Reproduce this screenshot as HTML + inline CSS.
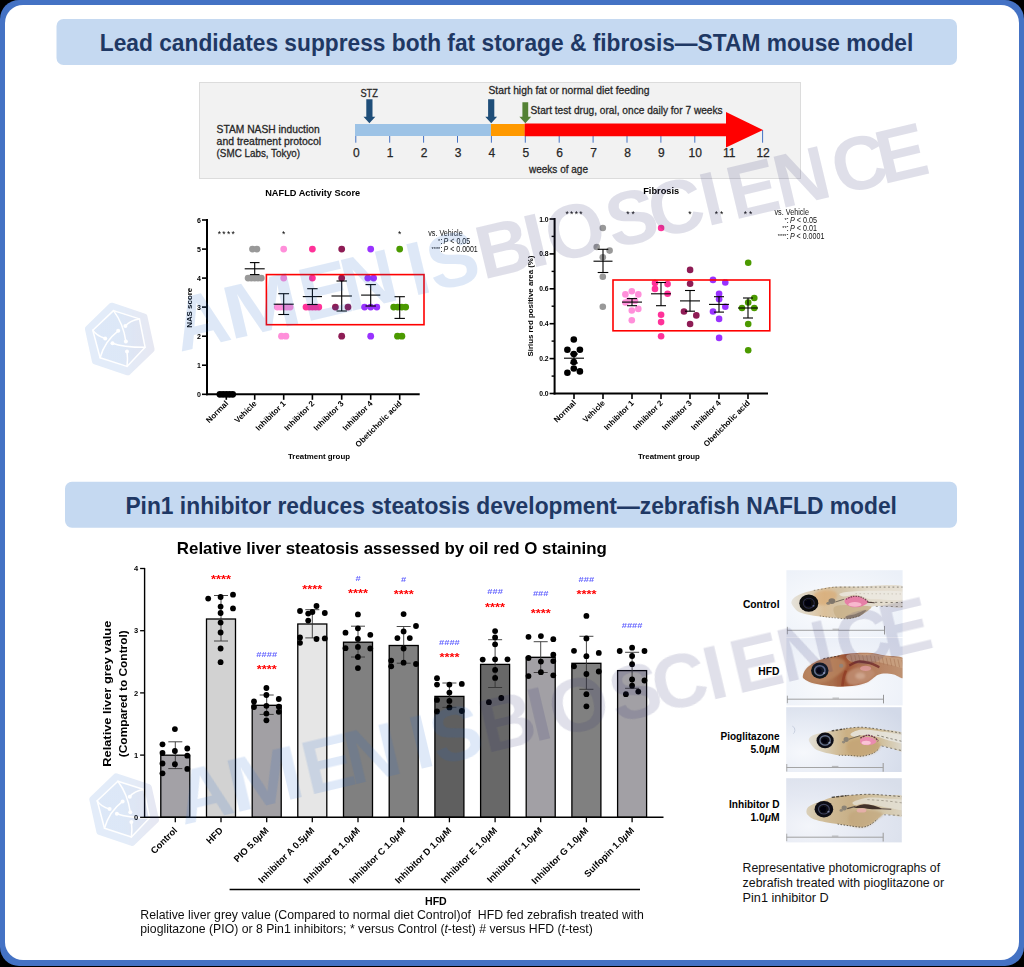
<!DOCTYPE html>
<html><head><meta charset="utf-8"><title>Slide</title>
<style>
html,body{margin:0;padding:0;background:#000;}
body{width:1024px;height:967px;overflow:hidden;}
svg{display:block;font-family:"Liberation Sans",sans-serif;}
</style></head><body>
<svg width="1024" height="967" viewBox="0 0 1024 967">
<defs><filter id="soft1" x="0" y="0" width="100%" height="100%" filterUnits="userSpaceOnUse"><feGaussianBlur stdDeviation="0.5"/></filter><filter id="soft2" x="0" y="0" width="100%" height="100%" filterUnits="userSpaceOnUse"><feGaussianBlur stdDeviation="0.35"/></filter></defs>
<rect x="0" y="0" width="1024" height="967" fill="#000" />
<rect x="0" y="0" width="1024" height="966" fill="#4472C4" rx="19" />
<rect x="5" y="5" width="1014" height="955" fill="#fff" rx="18" />
<rect x="56.5" y="19" width="900.5" height="46" fill="#C5D9F1" rx="7" />
<text x="99.8" y="51" font-size="24" font-weight="bold" fill="#1F3864" textLength="813.5" lengthAdjust="spacingAndGlyphs">Lead candidates suppress both fat storage &amp; fibrosis—STAM mouse model</text>
<rect x="199.5" y="82.5" width="601" height="96" fill="#F2F2F2" stroke="#DCDCDC" stroke-width="1" />
<line x1="355.8" y1="130" x2="355.8" y2="142.7" stroke="#4472C4" stroke-width="1" />
<text x="356.3" y="157" font-size="12" text-anchor="middle" fill="#262626" stroke="#262626" stroke-width="0.25">0</text>
<line x1="389.7" y1="130" x2="389.7" y2="142.7" stroke="#4472C4" stroke-width="1" />
<text x="390.2" y="157" font-size="12" text-anchor="middle" fill="#262626" stroke="#262626" stroke-width="0.25">1</text>
<line x1="423.6" y1="130" x2="423.6" y2="142.7" stroke="#4472C4" stroke-width="1" />
<text x="424.1" y="157" font-size="12" text-anchor="middle" fill="#262626" stroke="#262626" stroke-width="0.25">2</text>
<line x1="457.5" y1="130" x2="457.5" y2="142.7" stroke="#4472C4" stroke-width="1" />
<text x="458.0" y="157" font-size="12" text-anchor="middle" fill="#262626" stroke="#262626" stroke-width="0.25">3</text>
<line x1="491.4" y1="130" x2="491.4" y2="142.7" stroke="#4472C4" stroke-width="1" />
<text x="491.9" y="157" font-size="12" text-anchor="middle" fill="#262626" stroke="#262626" stroke-width="0.25">4</text>
<line x1="525.3" y1="130" x2="525.3" y2="142.7" stroke="#4472C4" stroke-width="1" />
<text x="525.8" y="157" font-size="12" text-anchor="middle" fill="#262626" stroke="#262626" stroke-width="0.25">5</text>
<line x1="559.2" y1="130" x2="559.2" y2="142.7" stroke="#4472C4" stroke-width="1" />
<text x="559.7" y="157" font-size="12" text-anchor="middle" fill="#262626" stroke="#262626" stroke-width="0.25">6</text>
<line x1="593.1" y1="130" x2="593.1" y2="142.7" stroke="#4472C4" stroke-width="1" />
<text x="593.6" y="157" font-size="12" text-anchor="middle" fill="#262626" stroke="#262626" stroke-width="0.25">7</text>
<line x1="627.0" y1="130" x2="627.0" y2="142.7" stroke="#4472C4" stroke-width="1" />
<text x="627.5" y="157" font-size="12" text-anchor="middle" fill="#262626" stroke="#262626" stroke-width="0.25">8</text>
<line x1="660.9" y1="130" x2="660.9" y2="142.7" stroke="#4472C4" stroke-width="1" />
<text x="661.4" y="157" font-size="12" text-anchor="middle" fill="#262626" stroke="#262626" stroke-width="0.25">9</text>
<line x1="694.8" y1="130" x2="694.8" y2="142.7" stroke="#4472C4" stroke-width="1" />
<text x="695.3" y="157" font-size="12" text-anchor="middle" fill="#262626" stroke="#262626" stroke-width="0.25">10</text>
<line x1="728.7" y1="130" x2="728.7" y2="142.7" stroke="#4472C4" stroke-width="1" />
<text x="729.2" y="157" font-size="12" text-anchor="middle" fill="#262626" stroke="#262626" stroke-width="0.25">11</text>
<line x1="762.6" y1="130" x2="762.6" y2="142.7" stroke="#4472C4" stroke-width="1" />
<text x="763.1" y="157" font-size="12" text-anchor="middle" fill="#262626" stroke="#262626" stroke-width="0.25">12</text>
<rect x="355" y="124" width="136" height="12" fill="#9DC3E6" />
<rect x="491" y="124" width="33.8" height="12" fill="#FF9900" />
<path d="M524.7 123.6 H726 V112 L763 130 L726 147.5 V136.2 H524.7 Z" fill="#FF0000"/>
<path d="M366.29999999999995 99.3 H372.5 V116.8 H375.29999999999995 L369.4 123.2 L363.5 116.8 H366.29999999999995 Z" fill="#1F4E79"/>
<path d="M488.09999999999997 99.3 H494.3 V116.8 H497.09999999999997 L491.2 123.2 L485.3 116.8 H488.09999999999997 Z" fill="#1F4E79"/>
<path d="M522.4 102.2 H528.1999999999999 V116.8 H531.1999999999999 L525.3 123.2 L519.4 116.8 H522.4 Z" fill="#548235"/>
<text x="369.2" y="96.8" font-size="11.5" text-anchor="middle" fill="#262626" textLength="17.5" lengthAdjust="spacingAndGlyphs" stroke="#262626" stroke-width="0.3">STZ</text>
<text x="488.5" y="94.2" font-size="11.5" fill="#262626" textLength="161" lengthAdjust="spacingAndGlyphs" stroke="#262626" stroke-width="0.3">Start high fat or normal diet feeding</text>
<text x="530.6" y="113.8" font-size="11.5" fill="#262626" textLength="192" lengthAdjust="spacingAndGlyphs" stroke="#262626" stroke-width="0.3">Start test drug, oral, once daily for 7 weeks</text>
<text x="529" y="173.2" font-size="11.5" fill="#262626" textLength="59" lengthAdjust="spacingAndGlyphs" stroke="#262626" stroke-width="0.3">weeks of age</text>
<text x="216.6" y="132.5" font-size="11" fill="#262626" textLength="103" lengthAdjust="spacingAndGlyphs" stroke="#262626" stroke-width="0.3">STAM NASH induction</text>
<text x="216.6" y="144.6" font-size="11" fill="#262626" textLength="104.5" lengthAdjust="spacingAndGlyphs" stroke="#262626" stroke-width="0.3">and treatment protocol</text>
<text x="216.6" y="156.7" font-size="11" fill="#262626" textLength="83.5" lengthAdjust="spacingAndGlyphs" stroke="#262626" stroke-width="0.3">(SMC Labs, Tokyo)</text>
<rect x="65" y="481.7" width="892" height="46" fill="#C5D9F1" rx="7" />
<text x="125.4" y="514" font-size="24" font-weight="bold" fill="#1F3864" textLength="771.5" lengthAdjust="spacingAndGlyphs">Pin1 inhibitor reduces steatosis development—zebrafish NAFLD model</text>
<g filter="url(#soft1)">
<text x="312.7" y="195.8" font-size="8.5" font-weight="bold" text-anchor="middle" textLength="95" lengthAdjust="spacingAndGlyphs">NAFLD Activity Score</text>
<line x1="207" y1="219.0" x2="207" y2="395.3" stroke="#000" stroke-width="2" />
<line x1="206" y1="394.3" x2="419.7" y2="394.3" stroke="#000" stroke-width="2" />
<line x1="202" y1="394.3" x2="207" y2="394.3" stroke="#000" stroke-width="1.6" />
<text x="201" y="396.90000000000003" font-size="7" font-weight="bold" text-anchor="end">0</text>
<line x1="202" y1="365.2" x2="207" y2="365.2" stroke="#000" stroke-width="1.6" />
<text x="201" y="367.8" font-size="7" font-weight="bold" text-anchor="end">1</text>
<line x1="202" y1="336.2" x2="207" y2="336.2" stroke="#000" stroke-width="1.6" />
<text x="201" y="338.8" font-size="7" font-weight="bold" text-anchor="end">2</text>
<line x1="202" y1="307.1" x2="207" y2="307.1" stroke="#000" stroke-width="1.6" />
<text x="201" y="309.70000000000005" font-size="7" font-weight="bold" text-anchor="end">3</text>
<line x1="202" y1="278.1" x2="207" y2="278.1" stroke="#000" stroke-width="1.6" />
<text x="201" y="280.70000000000005" font-size="7" font-weight="bold" text-anchor="end">4</text>
<line x1="202" y1="249.1" x2="207" y2="249.1" stroke="#000" stroke-width="1.6" />
<text x="201" y="251.7" font-size="7" font-weight="bold" text-anchor="end">5</text>
<line x1="202" y1="220.0" x2="207" y2="220.0" stroke="#000" stroke-width="1.6" />
<text x="201" y="222.6" font-size="7" font-weight="bold" text-anchor="end">6</text>
<line x1="226.3" y1="394.3" x2="226.3" y2="399.8" stroke="#000" stroke-width="1.6" />
<line x1="254.7" y1="394.3" x2="254.7" y2="399.8" stroke="#000" stroke-width="1.6" />
<line x1="283.7" y1="394.3" x2="283.7" y2="399.8" stroke="#000" stroke-width="1.6" />
<line x1="312.4" y1="394.3" x2="312.4" y2="399.8" stroke="#000" stroke-width="1.6" />
<line x1="341.7" y1="394.3" x2="341.7" y2="399.8" stroke="#000" stroke-width="1.6" />
<line x1="370.7" y1="394.3" x2="370.7" y2="399.8" stroke="#000" stroke-width="1.6" />
<line x1="399.7" y1="394.3" x2="399.7" y2="399.8" stroke="#000" stroke-width="1.6" />
<text x="228.8" y="404" font-size="8" font-weight="bold" text-anchor="end" transform="rotate(-45 228.8 404)">Normal</text>
<text x="257.2" y="404" font-size="8" font-weight="bold" text-anchor="end" transform="rotate(-45 257.2 404)">Vehicle</text>
<text x="286.2" y="404" font-size="8" font-weight="bold" text-anchor="end" transform="rotate(-45 286.2 404)">Inhibitor 1</text>
<text x="314.9" y="404" font-size="8" font-weight="bold" text-anchor="end" transform="rotate(-45 314.9 404)">Inhibitor 2</text>
<text x="344.2" y="404" font-size="8" font-weight="bold" text-anchor="end" transform="rotate(-45 344.2 404)">Inhibitor 3</text>
<text x="373.2" y="404" font-size="8" font-weight="bold" text-anchor="end" transform="rotate(-45 373.2 404)">Inhibitor 4</text>
<text x="402.2" y="404" font-size="8" font-weight="bold" text-anchor="end" transform="rotate(-45 402.2 404)">Obeticholic acid</text>
<text x="319" y="459.3" font-size="8" font-weight="bold" text-anchor="middle" textLength="62" lengthAdjust="spacingAndGlyphs">Treatment group</text>
<text x="191.8" y="307.8" font-size="7.5" font-weight="bold" text-anchor="middle" textLength="40" lengthAdjust="spacingAndGlyphs" transform="rotate(-90 191.8 307.8)">NAS score</text>
<circle cx="219.9" cy="394.3" r="3.4" fill="#000" />
<circle cx="223.1" cy="394.3" r="3.4" fill="#000" />
<circle cx="226.3" cy="394.3" r="3.4" fill="#000" />
<circle cx="229.5" cy="394.3" r="3.4" fill="#000" />
<circle cx="232.7" cy="394.3" r="3.4" fill="#000" />
<circle cx="252.5" cy="249.1" r="3.4" fill="#999999" />
<circle cx="256.9" cy="249.1" r="3.4" fill="#999999" />
<circle cx="248.1" cy="278.1" r="3.4" fill="#999999" />
<circle cx="251.4" cy="278.1" r="3.4" fill="#999999" />
<circle cx="254.7" cy="278.1" r="3.4" fill="#999999" />
<circle cx="258.0" cy="278.1" r="3.4" fill="#999999" />
<circle cx="261.3" cy="278.1" r="3.4" fill="#999999" />
<circle cx="283.7" cy="249.1" r="3.4" fill="#FF8FDA" />
<circle cx="283.7" cy="278.1" r="3.4" fill="#FF8FDA" />
<circle cx="277.3" cy="307.1" r="3.4" fill="#FF8FDA" />
<circle cx="280.5" cy="307.1" r="3.4" fill="#FF8FDA" />
<circle cx="283.7" cy="307.1" r="3.4" fill="#FF8FDA" />
<circle cx="286.9" cy="307.1" r="3.4" fill="#FF8FDA" />
<circle cx="290.1" cy="307.1" r="3.4" fill="#FF8FDA" />
<circle cx="281.5" cy="336.2" r="3.4" fill="#FF8FDA" />
<circle cx="285.9" cy="336.2" r="3.4" fill="#FF8FDA" />
<circle cx="312.4" cy="249.1" r="3.4" fill="#FF3399" />
<circle cx="312.4" cy="278.1" r="3.4" fill="#FF3399" />
<circle cx="306.0" cy="307.1" r="3.4" fill="#FF3399" />
<circle cx="309.2" cy="307.1" r="3.4" fill="#FF3399" />
<circle cx="312.4" cy="307.1" r="3.4" fill="#FF3399" />
<circle cx="315.6" cy="307.1" r="3.4" fill="#FF3399" />
<circle cx="318.8" cy="307.1" r="3.4" fill="#FF3399" />
<circle cx="341.7" cy="249.1" r="3.4" fill="#8E1B54" />
<circle cx="341.7" cy="278.1" r="3.4" fill="#8E1B54" />
<circle cx="335.4" cy="307.1" r="3.4" fill="#8E1B54" />
<circle cx="348.0" cy="307.1" r="3.4" fill="#8E1B54" />
<circle cx="341.7" cy="336.2" r="3.4" fill="#8E1B54" />
<circle cx="370.7" cy="249.1" r="3.4" fill="#9933FF" />
<circle cx="367.8" cy="278.1" r="3.4" fill="#9933FF" />
<circle cx="373.6" cy="278.1" r="3.4" fill="#9933FF" />
<circle cx="364.6" cy="307.1" r="3.4" fill="#9933FF" />
<circle cx="370.7" cy="307.1" r="3.4" fill="#9933FF" />
<circle cx="376.8" cy="307.1" r="3.4" fill="#9933FF" />
<circle cx="370.7" cy="336.2" r="3.4" fill="#9933FF" />
<circle cx="399.7" cy="249.1" r="3.4" fill="#4C9A00" />
<circle cx="393.7" cy="307.1" r="3.4" fill="#4C9A00" />
<circle cx="397.7" cy="307.1" r="3.4" fill="#4C9A00" />
<circle cx="401.7" cy="307.1" r="3.4" fill="#4C9A00" />
<circle cx="405.7" cy="307.1" r="3.4" fill="#4C9A00" />
<circle cx="397.5" cy="336.2" r="3.4" fill="#4C9A00" />
<circle cx="401.9" cy="336.2" r="3.4" fill="#4C9A00" />
<line x1="244.7" y1="268.8" x2="264.7" y2="268.8" stroke="#000" stroke-width="1.1" />
<line x1="254.7" y1="262.6" x2="254.7" y2="274.6" stroke="#000" stroke-width="1.1" />
<line x1="249.89999999999998" y1="262.6" x2="259.5" y2="262.6" stroke="#000" stroke-width="1.1" />
<line x1="249.89999999999998" y1="274.6" x2="259.5" y2="274.6" stroke="#000" stroke-width="1.1" />
<line x1="273.7" y1="304.2" x2="293.7" y2="304.2" stroke="#000" stroke-width="1.1" />
<line x1="283.7" y1="293.7" x2="283.7" y2="314.5" stroke="#000" stroke-width="1.1" />
<line x1="278.3" y1="293.7" x2="289.09999999999997" y2="293.7" stroke="#000" stroke-width="1.1" />
<line x1="278.3" y1="314.5" x2="289.09999999999997" y2="314.5" stroke="#000" stroke-width="1.1" />
<line x1="302.79999999999995" y1="296.6" x2="322.0" y2="296.6" stroke="#000" stroke-width="1.1" />
<line x1="312.4" y1="288.7" x2="312.4" y2="304.5" stroke="#000" stroke-width="1.1" />
<line x1="307.2" y1="288.7" x2="317.59999999999997" y2="288.7" stroke="#000" stroke-width="1.1" />
<line x1="307.2" y1="304.5" x2="317.59999999999997" y2="304.5" stroke="#000" stroke-width="1.1" />
<line x1="331.5" y1="296.0" x2="351.9" y2="296.0" stroke="#000" stroke-width="1.1" />
<line x1="341.7" y1="281.0" x2="341.7" y2="311.0" stroke="#000" stroke-width="1.1" />
<line x1="336.5" y1="281.0" x2="346.9" y2="281.0" stroke="#000" stroke-width="1.1" />
<line x1="336.5" y1="311.0" x2="346.9" y2="311.0" stroke="#000" stroke-width="1.1" />
<line x1="361.09999999999997" y1="295.1" x2="380.3" y2="295.1" stroke="#000" stroke-width="1.1" />
<line x1="370.7" y1="284.6" x2="370.7" y2="306.0" stroke="#000" stroke-width="1.1" />
<line x1="365.5" y1="284.6" x2="375.9" y2="284.6" stroke="#000" stroke-width="1.1" />
<line x1="365.5" y1="306.0" x2="375.9" y2="306.0" stroke="#000" stroke-width="1.1" />
<line x1="399.7" y1="307.5" x2="399.7" y2="307.5" stroke="#000" stroke-width="1.1" />
<line x1="399.7" y1="296.7" x2="399.7" y2="318.4" stroke="#000" stroke-width="1.1" />
<line x1="394.5" y1="296.7" x2="404.9" y2="296.7" stroke="#000" stroke-width="1.1" />
<line x1="394.5" y1="318.4" x2="404.9" y2="318.4" stroke="#000" stroke-width="1.1" />
<rect x="266.4" y="274.6" width="157.6" height="50.1" fill="none" stroke="#FF0000" stroke-width="1.6" />
<text x="226.3" y="237.2" font-size="8.5" text-anchor="middle" textLength="17.2" lengthAdjust="spacing">****</text>
<text x="283.7" y="237.2" font-size="8.5" text-anchor="middle">*</text>
<text x="399.7" y="237.2" font-size="8.5" text-anchor="middle">*</text>
<text x="428.2" y="235.6" font-size="8.4" fill="#111" textLength="34.5" lengthAdjust="spacingAndGlyphs">vs. Vehicle</text>
<text x="442.6" y="243.9" font-size="8.4" fill="#111" text-anchor="end"><tspan font-size="5.6" dy="-1.2">*</tspan><tspan dy="1.2">:</tspan></text>
<text x="443.6" y="243.9" font-size="8.4" fill="#111" textLength="26.6" lengthAdjust="spacingAndGlyphs"><tspan font-style="italic">P</tspan> &lt; 0.05</text>
<text x="442.6" y="252.2" font-size="8.4" fill="#111" text-anchor="end"><tspan font-size="5.6" dy="-1.2">****</tspan><tspan dy="1.2">:</tspan></text>
<text x="443.6" y="252.2" font-size="8.4" fill="#111" textLength="34.2" lengthAdjust="spacingAndGlyphs"><tspan font-style="italic">P</tspan> &lt; 0.0001</text>
<text x="661.2" y="193.7" font-size="8.5" font-weight="bold" text-anchor="middle" textLength="36" lengthAdjust="spacingAndGlyphs">Fibrosis</text>
<line x1="554.6" y1="218.0" x2="554.6" y2="394.5" stroke="#000" stroke-width="2" />
<line x1="553.6" y1="393.5" x2="768" y2="393.5" stroke="#000" stroke-width="2" />
<line x1="549.6" y1="393.5" x2="554.6" y2="393.5" stroke="#000" stroke-width="1.6" />
<text x="548.6" y="396.0" font-size="6.8" font-weight="bold" text-anchor="end">0.0</text>
<line x1="551.6" y1="376.1" x2="554.6" y2="376.1" stroke="#000" stroke-width="1.4" />
<line x1="549.6" y1="358.6" x2="554.6" y2="358.6" stroke="#000" stroke-width="1.6" />
<text x="548.6" y="361.1" font-size="6.8" font-weight="bold" text-anchor="end">0.2</text>
<line x1="551.6" y1="341.1" x2="554.6" y2="341.1" stroke="#000" stroke-width="1.4" />
<line x1="549.6" y1="323.7" x2="554.6" y2="323.7" stroke="#000" stroke-width="1.6" />
<text x="548.6" y="326.2" font-size="6.8" font-weight="bold" text-anchor="end">0.4</text>
<line x1="551.6" y1="306.2" x2="554.6" y2="306.2" stroke="#000" stroke-width="1.4" />
<line x1="549.6" y1="288.8" x2="554.6" y2="288.8" stroke="#000" stroke-width="1.6" />
<text x="548.6" y="291.3" font-size="6.8" font-weight="bold" text-anchor="end">0.6</text>
<line x1="551.6" y1="271.4" x2="554.6" y2="271.4" stroke="#000" stroke-width="1.4" />
<line x1="549.6" y1="253.9" x2="554.6" y2="253.9" stroke="#000" stroke-width="1.6" />
<text x="548.6" y="256.4" font-size="6.8" font-weight="bold" text-anchor="end">0.8</text>
<line x1="551.6" y1="236.4" x2="554.6" y2="236.4" stroke="#000" stroke-width="1.4" />
<line x1="549.6" y1="219.0" x2="554.6" y2="219.0" stroke="#000" stroke-width="1.6" />
<text x="548.6" y="221.5" font-size="6.8" font-weight="bold" text-anchor="end">1.0</text>
<line x1="574" y1="393.5" x2="574" y2="399.0" stroke="#000" stroke-width="1.6" />
<line x1="603" y1="393.5" x2="603" y2="399.0" stroke="#000" stroke-width="1.6" />
<line x1="632" y1="393.5" x2="632" y2="399.0" stroke="#000" stroke-width="1.6" />
<line x1="661" y1="393.5" x2="661" y2="399.0" stroke="#000" stroke-width="1.6" />
<line x1="690" y1="393.5" x2="690" y2="399.0" stroke="#000" stroke-width="1.6" />
<line x1="719" y1="393.5" x2="719" y2="399.0" stroke="#000" stroke-width="1.6" />
<line x1="748" y1="393.5" x2="748" y2="399.0" stroke="#000" stroke-width="1.6" />
<text x="576.5" y="403.5" font-size="8" font-weight="bold" text-anchor="end" transform="rotate(-45 576.5 403.5)">Normal</text>
<text x="605.5" y="403.5" font-size="8" font-weight="bold" text-anchor="end" transform="rotate(-45 605.5 403.5)">Vehicle</text>
<text x="634.5" y="403.5" font-size="8" font-weight="bold" text-anchor="end" transform="rotate(-45 634.5 403.5)">Inhibitor 1</text>
<text x="663.5" y="403.5" font-size="8" font-weight="bold" text-anchor="end" transform="rotate(-45 663.5 403.5)">Inhibitor 2</text>
<text x="692.5" y="403.5" font-size="8" font-weight="bold" text-anchor="end" transform="rotate(-45 692.5 403.5)">Inhibitor 3</text>
<text x="721.5" y="403.5" font-size="8" font-weight="bold" text-anchor="end" transform="rotate(-45 721.5 403.5)">Inhibitor 4</text>
<text x="750.5" y="403.5" font-size="8" font-weight="bold" text-anchor="end" transform="rotate(-45 750.5 403.5)">Obeticholic acid</text>
<text x="668.9" y="459.3" font-size="8" font-weight="bold" text-anchor="middle" textLength="62" lengthAdjust="spacingAndGlyphs">Treatment group</text>
<text x="532.5" y="306" font-size="7.5" font-weight="bold" text-anchor="middle" textLength="101" lengthAdjust="spacingAndGlyphs" transform="rotate(-90 532.5 306)">Sirius red positive area (%)</text>
<circle cx="573.8" cy="339.5" r="3.3" fill="#000" />
<circle cx="567.4" cy="349.8" r="3.3" fill="#000" />
<circle cx="579.9" cy="349.8" r="3.3" fill="#000" />
<circle cx="573.8" cy="354" r="3.3" fill="#000" />
<circle cx="573.8" cy="362" r="3.3" fill="#000" />
<circle cx="573.8" cy="368.5" r="3.3" fill="#000" />
<circle cx="567.4" cy="372.7" r="3.3" fill="#000" />
<circle cx="579.9" cy="371.4" r="3.3" fill="#000" />
<circle cx="602.8" cy="228" r="3.3" fill="#999999" />
<circle cx="596.7" cy="247" r="3.3" fill="#999999" />
<circle cx="609.6" cy="250.6" r="3.3" fill="#999999" />
<circle cx="602.8" cy="257.3" r="3.3" fill="#999999" />
<circle cx="602.8" cy="276.7" r="3.3" fill="#999999" />
<circle cx="602.8" cy="306.7" r="3.3" fill="#999999" />
<circle cx="631.8" cy="291.2" r="3.3" fill="#FF8FDA" />
<circle cx="625.4" cy="294.4" r="3.3" fill="#FF8FDA" />
<circle cx="638.3" cy="294.4" r="3.3" fill="#FF8FDA" />
<circle cx="628.6" cy="300.9" r="3.3" fill="#FF8FDA" />
<circle cx="635" cy="300.9" r="3.3" fill="#FF8FDA" />
<circle cx="625.4" cy="302.5" r="3.3" fill="#FF8FDA" />
<circle cx="638.3" cy="308.9" r="3.3" fill="#FF8FDA" />
<circle cx="631.8" cy="310.5" r="3.3" fill="#FF8FDA" />
<circle cx="631.8" cy="320.2" r="3.3" fill="#FF8FDA" />
<circle cx="661.1" cy="228" r="3.3" fill="#FF3399" />
<circle cx="655" cy="283.1" r="3.3" fill="#FF3399" />
<circle cx="667.6" cy="284.1" r="3.3" fill="#FF3399" />
<circle cx="655" cy="288.9" r="3.3" fill="#FF3399" />
<circle cx="667.6" cy="293.8" r="3.3" fill="#FF3399" />
<circle cx="661.1" cy="314.7" r="3.3" fill="#FF3399" />
<circle cx="661.1" cy="322.1" r="3.3" fill="#FF3399" />
<circle cx="661.1" cy="336.3" r="3.3" fill="#FF3399" />
<circle cx="690.1" cy="269.9" r="3.3" fill="#8E1B54" />
<circle cx="690.1" cy="283.8" r="3.3" fill="#8E1B54" />
<circle cx="684" cy="311.5" r="3.3" fill="#8E1B54" />
<circle cx="696.3" cy="315.4" r="3.3" fill="#8E1B54" />
<circle cx="690.1" cy="324" r="3.3" fill="#8E1B54" />
<circle cx="713" cy="279.9" r="3.3" fill="#9933FF" />
<circle cx="725.3" cy="282.5" r="3.3" fill="#9933FF" />
<circle cx="719.1" cy="293.8" r="3.3" fill="#9933FF" />
<circle cx="719.1" cy="299.2" r="3.3" fill="#9933FF" />
<circle cx="725.3" cy="306.7" r="3.3" fill="#9933FF" />
<circle cx="713" cy="311.5" r="3.3" fill="#9933FF" />
<circle cx="719.1" cy="318.9" r="3.3" fill="#9933FF" />
<circle cx="719.1" cy="337.9" r="3.3" fill="#9933FF" />
<circle cx="748.2" cy="262.8" r="3.3" fill="#4C9A00" />
<circle cx="754.3" cy="298" r="3.3" fill="#4C9A00" />
<circle cx="748.2" cy="302.5" r="3.3" fill="#4C9A00" />
<circle cx="742" cy="308" r="3.3" fill="#4C9A00" />
<circle cx="754.3" cy="308" r="3.3" fill="#4C9A00" />
<circle cx="748.2" cy="324" r="3.3" fill="#4C9A00" />
<circle cx="748.2" cy="350.2" r="3.3" fill="#4C9A00" />
<line x1="564" y1="358.2" x2="584" y2="358.2" stroke="#000" stroke-width="1.1" />
<line x1="574" y1="354" x2="574" y2="363" stroke="#000" stroke-width="1.1" />
<line x1="570" y1="354" x2="578" y2="354" stroke="#000" stroke-width="1.1" />
<line x1="570" y1="363" x2="578" y2="363" stroke="#000" stroke-width="1.1" />
<line x1="593.5" y1="261.2" x2="612.5" y2="261.2" stroke="#000" stroke-width="1.1" />
<line x1="603" y1="249.3" x2="603" y2="272.5" stroke="#000" stroke-width="1.1" />
<line x1="597.7" y1="249.3" x2="608.3" y2="249.3" stroke="#000" stroke-width="1.1" />
<line x1="597.7" y1="272.5" x2="608.3" y2="272.5" stroke="#000" stroke-width="1.1" />
<line x1="622" y1="302.1" x2="642" y2="302.1" stroke="#000" stroke-width="1.1" />
<line x1="632" y1="298.6" x2="632" y2="305.7" stroke="#000" stroke-width="1.1" />
<line x1="627" y1="298.6" x2="637" y2="298.6" stroke="#000" stroke-width="1.1" />
<line x1="627" y1="305.7" x2="637" y2="305.7" stroke="#000" stroke-width="1.1" />
<line x1="651" y1="293.8" x2="671" y2="293.8" stroke="#000" stroke-width="1.1" />
<line x1="661" y1="282.5" x2="661" y2="305.7" stroke="#000" stroke-width="1.1" />
<line x1="656" y1="282.5" x2="666" y2="282.5" stroke="#000" stroke-width="1.1" />
<line x1="656" y1="305.7" x2="666" y2="305.7" stroke="#000" stroke-width="1.1" />
<line x1="680" y1="300.9" x2="700" y2="300.9" stroke="#000" stroke-width="1.1" />
<line x1="690" y1="290.5" x2="690" y2="311.2" stroke="#000" stroke-width="1.1" />
<line x1="685" y1="290.5" x2="695" y2="290.5" stroke="#000" stroke-width="1.1" />
<line x1="685" y1="311.2" x2="695" y2="311.2" stroke="#000" stroke-width="1.1" />
<line x1="709" y1="304.4" x2="729" y2="304.4" stroke="#000" stroke-width="1.1" />
<line x1="719" y1="296.7" x2="719" y2="312.1" stroke="#000" stroke-width="1.1" />
<line x1="714" y1="296.7" x2="724" y2="296.7" stroke="#000" stroke-width="1.1" />
<line x1="714" y1="312.1" x2="724" y2="312.1" stroke="#000" stroke-width="1.1" />
<line x1="738" y1="308" x2="758" y2="308" stroke="#000" stroke-width="1.1" />
<line x1="748" y1="298" x2="748" y2="318" stroke="#000" stroke-width="1.1" />
<line x1="743" y1="298" x2="753" y2="298" stroke="#000" stroke-width="1.1" />
<line x1="743" y1="318" x2="753" y2="318" stroke="#000" stroke-width="1.1" />
<rect x="613" y="280" width="156.8" height="50.8" fill="none" stroke="#FF0000" stroke-width="1.6" />
<text x="574" y="216.8" font-size="8.5" text-anchor="middle" textLength="17.2" lengthAdjust="spacing">****</text>
<text x="630.5" y="216.8" font-size="8.5" text-anchor="middle" textLength="8.6" lengthAdjust="spacing">**</text>
<text x="690" y="216.8" font-size="8.5" text-anchor="middle">*</text>
<text x="719" y="216.8" font-size="8.5" text-anchor="middle" textLength="8.6" lengthAdjust="spacing">**</text>
<text x="748" y="216.8" font-size="8.5" text-anchor="middle" textLength="8.6" lengthAdjust="spacing">**</text>
<text x="774.5" y="214.5" font-size="8.4" fill="#111" textLength="34.5" lengthAdjust="spacingAndGlyphs">vs. Vehicle</text>
<text x="788.9" y="222.8" font-size="8.4" fill="#111" text-anchor="end"><tspan font-size="5.6" dy="-1.2">*</tspan><tspan dy="1.2">:</tspan></text>
<text x="789.9" y="222.8" font-size="8.4" fill="#111" textLength="27" lengthAdjust="spacingAndGlyphs"><tspan font-style="italic">P</tspan> &lt; 0.05</text>
<text x="788.9" y="231.1" font-size="8.4" fill="#111" text-anchor="end"><tspan font-size="5.6" dy="-1.2">**</tspan><tspan dy="1.2">:</tspan></text>
<text x="789.9" y="231.1" font-size="8.4" fill="#111" textLength="27" lengthAdjust="spacingAndGlyphs"><tspan font-style="italic">P</tspan> &lt; 0.01</text>
<text x="788.9" y="239.4" font-size="8.4" fill="#111" text-anchor="end"><tspan font-size="5.6" dy="-1.2">****</tspan><tspan dy="1.2">:</tspan></text>
<text x="789.9" y="239.4" font-size="8.4" fill="#111" textLength="34.5" lengthAdjust="spacingAndGlyphs"><tspan font-style="italic">P</tspan> &lt; 0.0001</text>
</g>
<g filter="url(#soft2)">
<text x="176.8" y="554.4" font-size="17" font-weight="bold" textLength="430" lengthAdjust="spacingAndGlyphs">Relative liver steatosis assessed by oil red O staining</text>
<rect x="160.8" y="755.2" width="29" height="62.1" fill="#A3A1A6" stroke="#000" stroke-width="1.3" />
<rect x="206.5" y="619" width="29" height="198.3" fill="#D2D2D2" stroke="#000" stroke-width="1.3" />
<rect x="252.2" y="705.3" width="29" height="112.0" fill="#A2A0A4" stroke="#000" stroke-width="1.3" />
<rect x="297.8" y="624" width="29" height="193.3" fill="#E6E6E6" stroke="#000" stroke-width="1.3" />
<rect x="343.5" y="642.2" width="29" height="175.1" fill="#808080" stroke="#000" stroke-width="1.3" />
<rect x="389.2" y="645.5" width="29" height="171.8" fill="#808080" stroke="#000" stroke-width="1.3" />
<rect x="434.9" y="696.4" width="29" height="120.9" fill="#5E5E5E" stroke="#000" stroke-width="1.3" />
<rect x="480.6" y="664.4" width="29" height="152.9" fill="#686868" stroke="#000" stroke-width="1.3" />
<rect x="526.2" y="657.3" width="29" height="160.0" fill="#A2A0A5" stroke="#000" stroke-width="1.3" />
<rect x="571.9" y="663.3" width="29" height="154.0" fill="#808080" stroke="#000" stroke-width="1.3" />
<rect x="617.6" y="670.6" width="29" height="146.7" fill="#A2A0A5" stroke="#000" stroke-width="1.3" />
<line x1="144.6" y1="567.9" x2="144.6" y2="818.0" stroke="#000" stroke-width="1.4" />
<line x1="143.9" y1="817.3" x2="663.5" y2="817.3" stroke="#000" stroke-width="1.4" />
<line x1="140.1" y1="817.3" x2="144.6" y2="817.3" stroke="#000" stroke-width="1.3" />
<text x="138.1" y="820.0" font-size="7.5" font-weight="bold" text-anchor="end">0</text>
<line x1="140.1" y1="755.1" x2="144.6" y2="755.1" stroke="#000" stroke-width="1.3" />
<text x="138.1" y="757.8000000000001" font-size="7.5" font-weight="bold" text-anchor="end">1</text>
<line x1="140.1" y1="692.9" x2="144.6" y2="692.9" stroke="#000" stroke-width="1.3" />
<text x="138.1" y="695.6" font-size="7.5" font-weight="bold" text-anchor="end">2</text>
<line x1="140.1" y1="630.7" x2="144.6" y2="630.7" stroke="#000" stroke-width="1.3" />
<text x="138.1" y="633.4000000000001" font-size="7.5" font-weight="bold" text-anchor="end">3</text>
<line x1="140.1" y1="568.5" x2="144.6" y2="568.5" stroke="#000" stroke-width="1.3" />
<text x="138.1" y="571.2" font-size="7.5" font-weight="bold" text-anchor="end">4</text>
<line x1="175.3" y1="817.3" x2="175.3" y2="822.3" stroke="#000" stroke-width="1.3" />
<line x1="221.0" y1="817.3" x2="221.0" y2="822.3" stroke="#000" stroke-width="1.3" />
<line x1="266.7" y1="817.3" x2="266.7" y2="822.3" stroke="#000" stroke-width="1.3" />
<line x1="312.3" y1="817.3" x2="312.3" y2="822.3" stroke="#000" stroke-width="1.3" />
<line x1="358.0" y1="817.3" x2="358.0" y2="822.3" stroke="#000" stroke-width="1.3" />
<line x1="403.7" y1="817.3" x2="403.7" y2="822.3" stroke="#000" stroke-width="1.3" />
<line x1="449.4" y1="817.3" x2="449.4" y2="822.3" stroke="#000" stroke-width="1.3" />
<line x1="495.1" y1="817.3" x2="495.1" y2="822.3" stroke="#000" stroke-width="1.3" />
<line x1="540.7" y1="817.3" x2="540.7" y2="822.3" stroke="#000" stroke-width="1.3" />
<line x1="586.4" y1="817.3" x2="586.4" y2="822.3" stroke="#000" stroke-width="1.3" />
<line x1="632.1" y1="817.3" x2="632.1" y2="822.3" stroke="#000" stroke-width="1.3" />
<line x1="175.3" y1="741.8" x2="175.3" y2="768.6" stroke="#333" stroke-width="0.9" />
<line x1="168.3" y1="741.8" x2="182.3" y2="741.8" stroke="#333" stroke-width="0.9" />
<line x1="168.3" y1="768.6" x2="182.3" y2="768.6" stroke="#333" stroke-width="0.9" />
<line x1="221.0" y1="595.5" x2="221.0" y2="641" stroke="#333" stroke-width="0.9" />
<line x1="214.0" y1="595.5" x2="228.0" y2="595.5" stroke="#333" stroke-width="0.9" />
<line x1="214.0" y1="641" x2="228.0" y2="641" stroke="#333" stroke-width="0.9" />
<line x1="266.7" y1="695" x2="266.7" y2="714.4" stroke="#333" stroke-width="0.9" />
<line x1="259.7" y1="695" x2="273.7" y2="695" stroke="#333" stroke-width="0.9" />
<line x1="259.7" y1="714.4" x2="273.7" y2="714.4" stroke="#333" stroke-width="0.9" />
<line x1="312.3" y1="609.7" x2="312.3" y2="637.9" stroke="#333" stroke-width="0.9" />
<line x1="305.3" y1="609.7" x2="319.3" y2="609.7" stroke="#333" stroke-width="0.9" />
<line x1="305.3" y1="637.9" x2="319.3" y2="637.9" stroke="#333" stroke-width="0.9" />
<line x1="358.0" y1="626.2" x2="358.0" y2="657" stroke="#333" stroke-width="0.9" />
<line x1="351.0" y1="626.2" x2="365.0" y2="626.2" stroke="#333" stroke-width="0.9" />
<line x1="351.0" y1="657" x2="365.0" y2="657" stroke="#333" stroke-width="0.9" />
<line x1="403.7" y1="626.5" x2="403.7" y2="663.2" stroke="#333" stroke-width="0.9" />
<line x1="396.7" y1="626.5" x2="410.7" y2="626.5" stroke="#333" stroke-width="0.9" />
<line x1="396.7" y1="663.2" x2="410.7" y2="663.2" stroke="#333" stroke-width="0.9" />
<line x1="449.4" y1="683" x2="449.4" y2="707.4" stroke="#333" stroke-width="0.9" />
<line x1="442.4" y1="683" x2="456.4" y2="683" stroke="#333" stroke-width="0.9" />
<line x1="442.4" y1="707.4" x2="456.4" y2="707.4" stroke="#333" stroke-width="0.9" />
<line x1="495.1" y1="639.7" x2="495.1" y2="687.5" stroke="#333" stroke-width="0.9" />
<line x1="488.1" y1="639.7" x2="502.1" y2="639.7" stroke="#333" stroke-width="0.9" />
<line x1="488.1" y1="687.5" x2="502.1" y2="687.5" stroke="#333" stroke-width="0.9" />
<line x1="540.7" y1="641.7" x2="540.7" y2="672.5" stroke="#333" stroke-width="0.9" />
<line x1="533.7" y1="641.7" x2="547.7" y2="641.7" stroke="#333" stroke-width="0.9" />
<line x1="533.7" y1="672.5" x2="547.7" y2="672.5" stroke="#333" stroke-width="0.9" />
<line x1="586.4" y1="636.3" x2="586.4" y2="689.3" stroke="#333" stroke-width="0.9" />
<line x1="579.4" y1="636.3" x2="593.4" y2="636.3" stroke="#333" stroke-width="0.9" />
<line x1="579.4" y1="689.3" x2="593.4" y2="689.3" stroke="#333" stroke-width="0.9" />
<line x1="632.1" y1="652.3" x2="632.1" y2="688.3" stroke="#333" stroke-width="0.9" />
<line x1="625.1" y1="652.3" x2="639.1" y2="652.3" stroke="#333" stroke-width="0.9" />
<line x1="625.1" y1="688.3" x2="639.1" y2="688.3" stroke="#333" stroke-width="0.9" />
<circle cx="174.9" cy="729.1" r="2.9" fill="#000" />
<circle cx="162.5" cy="744.3" r="2.9" fill="#000" />
<circle cx="187.3" cy="748.5" r="2.9" fill="#000" />
<circle cx="174.9" cy="751" r="2.9" fill="#000" />
<circle cx="162.5" cy="753" r="2.9" fill="#000" />
<circle cx="187.3" cy="755.7" r="2.9" fill="#000" />
<circle cx="162.5" cy="763.5" r="2.9" fill="#000" />
<circle cx="174.9" cy="764.2" r="2.9" fill="#000" />
<circle cx="187.3" cy="768.9" r="2.9" fill="#000" />
<circle cx="162.5" cy="773.3" r="2.9" fill="#000" />
<circle cx="233" cy="594.7" r="2.9" fill="#000" />
<circle cx="208.2" cy="598.6" r="2.9" fill="#000" />
<circle cx="220.6" cy="597" r="2.9" fill="#000" />
<circle cx="220.6" cy="606.6" r="2.9" fill="#000" />
<circle cx="233" cy="608.4" r="2.9" fill="#000" />
<circle cx="220.6" cy="613" r="2.9" fill="#000" />
<circle cx="220.6" cy="622.6" r="2.9" fill="#000" />
<circle cx="220.6" cy="632.5" r="2.9" fill="#000" />
<circle cx="220.6" cy="648.5" r="2.9" fill="#000" />
<circle cx="220.6" cy="662.2" r="2.9" fill="#000" />
<circle cx="266.4" cy="688" r="2.9" fill="#000" />
<circle cx="266.4" cy="695" r="2.9" fill="#000" />
<circle cx="254" cy="701.4" r="2.9" fill="#000" />
<circle cx="278.8" cy="699" r="2.9" fill="#000" />
<circle cx="254" cy="707" r="2.9" fill="#000" />
<circle cx="266.4" cy="705.8" r="2.9" fill="#000" />
<circle cx="278.8" cy="706.6" r="2.9" fill="#000" />
<circle cx="278.8" cy="711.8" r="2.9" fill="#000" />
<circle cx="266.4" cy="713.6" r="2.9" fill="#000" />
<circle cx="266.4" cy="720.3" r="2.9" fill="#000" />
<circle cx="316.5" cy="606" r="2.9" fill="#000" />
<circle cx="300" cy="611" r="2.9" fill="#000" />
<circle cx="324.8" cy="613" r="2.9" fill="#000" />
<circle cx="308.2" cy="613.6" r="2.9" fill="#000" />
<circle cx="308.2" cy="620.6" r="2.9" fill="#000" />
<circle cx="300" cy="637.4" r="2.9" fill="#000" />
<circle cx="316.5" cy="639" r="2.9" fill="#000" />
<circle cx="324.8" cy="638.4" r="2.9" fill="#000" />
<circle cx="300" cy="642.8" r="2.9" fill="#000" />
<circle cx="312.4" cy="612" r="2.9" fill="#000" />
<circle cx="357.9" cy="614.4" r="2.9" fill="#000" />
<circle cx="357.9" cy="628.3" r="2.9" fill="#000" />
<circle cx="345.5" cy="632.7" r="2.9" fill="#000" />
<circle cx="370.3" cy="634.8" r="2.9" fill="#000" />
<circle cx="357.9" cy="638.9" r="2.9" fill="#000" />
<circle cx="357.9" cy="646.9" r="2.9" fill="#000" />
<circle cx="345.5" cy="648.2" r="2.9" fill="#000" />
<circle cx="370.3" cy="648.5" r="2.9" fill="#000" />
<circle cx="357.9" cy="657" r="2.9" fill="#000" />
<circle cx="357.9" cy="668.1" r="2.9" fill="#000" />
<circle cx="403.6" cy="614.1" r="2.9" fill="#000" />
<circle cx="416" cy="626" r="2.9" fill="#000" />
<circle cx="403.6" cy="631.4" r="2.9" fill="#000" />
<circle cx="397.4" cy="638.1" r="2.9" fill="#000" />
<circle cx="409.8" cy="638.1" r="2.9" fill="#000" />
<circle cx="403.6" cy="648.5" r="2.9" fill="#000" />
<circle cx="391.2" cy="660.6" r="2.9" fill="#000" />
<circle cx="403.6" cy="662.7" r="2.9" fill="#000" />
<circle cx="416" cy="664" r="2.9" fill="#000" />
<circle cx="391.2" cy="666.3" r="2.9" fill="#000" />
<circle cx="437" cy="678.2" r="2.9" fill="#000" />
<circle cx="437" cy="684.6" r="2.9" fill="#000" />
<circle cx="449.4" cy="684.6" r="2.9" fill="#000" />
<circle cx="461.8" cy="683.9" r="2.9" fill="#000" />
<circle cx="449.4" cy="692.6" r="2.9" fill="#000" />
<circle cx="437" cy="699.9" r="2.9" fill="#000" />
<circle cx="449.4" cy="700.9" r="2.9" fill="#000" />
<circle cx="449.4" cy="707.4" r="2.9" fill="#000" />
<circle cx="437" cy="711.5" r="2.9" fill="#000" />
<circle cx="461.8" cy="711" r="2.9" fill="#000" />
<circle cx="495.1" cy="631.1" r="2.9" fill="#000" />
<circle cx="495.1" cy="637.4" r="2.9" fill="#000" />
<circle cx="495.1" cy="644.3" r="2.9" fill="#000" />
<circle cx="482.7" cy="659.6" r="2.9" fill="#000" />
<circle cx="495.1" cy="659.3" r="2.9" fill="#000" />
<circle cx="507.5" cy="659.3" r="2.9" fill="#000" />
<circle cx="495.1" cy="669.9" r="2.9" fill="#000" />
<circle cx="495.1" cy="677.9" r="2.9" fill="#000" />
<circle cx="501.3" cy="698" r="2.9" fill="#000" />
<circle cx="488.9" cy="702.2" r="2.9" fill="#000" />
<circle cx="528.5" cy="636.8" r="2.9" fill="#000" />
<circle cx="540.9" cy="636.1" r="2.9" fill="#000" />
<circle cx="553.3" cy="639.2" r="2.9" fill="#000" />
<circle cx="553.3" cy="654.7" r="2.9" fill="#000" />
<circle cx="528.5" cy="658" r="2.9" fill="#000" />
<circle cx="553.3" cy="661.1" r="2.9" fill="#000" />
<circle cx="540.9" cy="661.6" r="2.9" fill="#000" />
<circle cx="540.9" cy="672.2" r="2.9" fill="#000" />
<circle cx="528.5" cy="676.1" r="2.9" fill="#000" />
<circle cx="553.3" cy="675.3" r="2.9" fill="#000" />
<circle cx="586.4" cy="615.9" r="2.9" fill="#000" />
<circle cx="586.4" cy="638.4" r="2.9" fill="#000" />
<circle cx="574" cy="650.8" r="2.9" fill="#000" />
<circle cx="598.8" cy="652.9" r="2.9" fill="#000" />
<circle cx="586.4" cy="656.2" r="2.9" fill="#000" />
<circle cx="574" cy="666.3" r="2.9" fill="#000" />
<circle cx="598.8" cy="671.5" r="2.9" fill="#000" />
<circle cx="586.4" cy="674" r="2.9" fill="#000" />
<circle cx="586.4" cy="694.2" r="2.9" fill="#000" />
<circle cx="586.4" cy="706.3" r="2.9" fill="#000" />
<circle cx="632.1" cy="647.7" r="2.9" fill="#000" />
<circle cx="619.7" cy="651" r="2.9" fill="#000" />
<circle cx="644.5" cy="651" r="2.9" fill="#000" />
<circle cx="632.1" cy="656" r="2.9" fill="#000" />
<circle cx="632.1" cy="664.2" r="2.9" fill="#000" />
<circle cx="632.1" cy="679.5" r="2.9" fill="#000" />
<circle cx="644.5" cy="680.5" r="2.9" fill="#000" />
<circle cx="632.1" cy="685.7" r="2.9" fill="#000" />
<circle cx="638.3" cy="691.6" r="2.9" fill="#000" />
<circle cx="625.9" cy="694.2" r="2.9" fill="#000" />
<text x="221.0" y="583" font-size="10.5" font-weight="bold" text-anchor="middle" fill="#FF0000" textLength="20" lengthAdjust="spacingAndGlyphs">****</text>
<text x="266.7" y="672.6" font-size="10.5" font-weight="bold" text-anchor="middle" fill="#FF0000" textLength="20" lengthAdjust="spacingAndGlyphs">****</text>
<text x="266.7" y="657.4" font-size="7.5" font-weight="bold" text-anchor="middle" fill="#6666FF" textLength="20.8" lengthAdjust="spacingAndGlyphs">####</text>
<text x="312.3" y="592.5" font-size="10.5" font-weight="bold" text-anchor="middle" fill="#FF0000" textLength="20" lengthAdjust="spacingAndGlyphs">****</text>
<text x="358.0" y="597.4" font-size="10.5" font-weight="bold" text-anchor="middle" fill="#FF0000" textLength="20" lengthAdjust="spacingAndGlyphs">****</text>
<text x="358.0" y="581.1" font-size="7.5" font-weight="bold" text-anchor="middle" fill="#6666FF" textLength="5.2" lengthAdjust="spacingAndGlyphs">#</text>
<text x="403.7" y="598.2" font-size="10.5" font-weight="bold" text-anchor="middle" fill="#FF0000" textLength="20" lengthAdjust="spacingAndGlyphs">****</text>
<text x="403.7" y="582.2" font-size="7.5" font-weight="bold" text-anchor="middle" fill="#6666FF" textLength="5.2" lengthAdjust="spacingAndGlyphs">#</text>
<text x="449.4" y="661" font-size="10.5" font-weight="bold" text-anchor="middle" fill="#FF0000" textLength="20" lengthAdjust="spacingAndGlyphs">****</text>
<text x="449.4" y="644.7" font-size="7.5" font-weight="bold" text-anchor="middle" fill="#6666FF" textLength="20.8" lengthAdjust="spacingAndGlyphs">####</text>
<text x="495.1" y="610.6" font-size="10.5" font-weight="bold" text-anchor="middle" fill="#FF0000" textLength="20" lengthAdjust="spacingAndGlyphs">****</text>
<text x="495.1" y="594.3" font-size="7.5" font-weight="bold" text-anchor="middle" fill="#6666FF" textLength="15.6" lengthAdjust="spacingAndGlyphs">###</text>
<text x="540.7" y="616.8" font-size="10.5" font-weight="bold" text-anchor="middle" fill="#FF0000" textLength="20" lengthAdjust="spacingAndGlyphs">****</text>
<text x="540.7" y="596.1" font-size="7.5" font-weight="bold" text-anchor="middle" fill="#6666FF" textLength="15.6" lengthAdjust="spacingAndGlyphs">###</text>
<text x="586.4" y="598.2" font-size="10.5" font-weight="bold" text-anchor="middle" fill="#FF0000" textLength="20" lengthAdjust="spacingAndGlyphs">****</text>
<text x="586.4" y="581.9" font-size="7.5" font-weight="bold" text-anchor="middle" fill="#6666FF" textLength="15.6" lengthAdjust="spacingAndGlyphs">###</text>
<text x="632.1" y="627.7" font-size="7.5" font-weight="bold" text-anchor="middle" fill="#6666FF" textLength="20.8" lengthAdjust="spacingAndGlyphs">####</text>
<text x="177.9" y="831" font-size="9.3" font-weight="bold" text-anchor="end" transform="rotate(-45 177.9 831)">Control</text>
<text x="223.6" y="831" font-size="9.3" font-weight="bold" text-anchor="end" transform="rotate(-45 223.6 831)">HFD</text>
<text x="269.3" y="831" font-size="9.3" font-weight="bold" text-anchor="end" transform="rotate(-45 269.3 831)">PIO 5.0<tspan font-style="italic">μ</tspan>M</text>
<text x="314.9" y="831" font-size="9.3" font-weight="bold" text-anchor="end" transform="rotate(-45 314.9 831)">Inhibitor A 0.5<tspan font-style="italic">μ</tspan>M</text>
<text x="360.6" y="831" font-size="9.3" font-weight="bold" text-anchor="end" transform="rotate(-45 360.6 831)">Inhibitor B 1.0<tspan font-style="italic">μ</tspan>M</text>
<text x="406.3" y="831" font-size="9.3" font-weight="bold" text-anchor="end" transform="rotate(-45 406.3 831)">Inhibitor C 1.0<tspan font-style="italic">μ</tspan>M</text>
<text x="452.0" y="831" font-size="9.3" font-weight="bold" text-anchor="end" transform="rotate(-45 452.0 831)">Inhibitor D 1.0<tspan font-style="italic">μ</tspan>M</text>
<text x="497.7" y="831" font-size="9.3" font-weight="bold" text-anchor="end" transform="rotate(-45 497.7 831)">Inhibitor E 1.0<tspan font-style="italic">μ</tspan>M</text>
<text x="543.3" y="831" font-size="9.3" font-weight="bold" text-anchor="end" transform="rotate(-45 543.3 831)">Inhibitor F 1.0<tspan font-style="italic">μ</tspan>M</text>
<text x="589.0" y="831" font-size="9.3" font-weight="bold" text-anchor="end" transform="rotate(-45 589.0 831)">Inhibitor G 1.0<tspan font-style="italic">μ</tspan>M</text>
<text x="634.7" y="831" font-size="9.3" font-weight="bold" text-anchor="end" transform="rotate(-45 634.7 831)">Sulfopin 1.0<tspan font-style="italic">μ</tspan>M</text>
<line x1="229.6" y1="889.4" x2="640" y2="889.4" stroke="#000" stroke-width="1.5" />
<text x="435.9" y="904.6" font-size="10.6" font-weight="bold" text-anchor="middle">HFD</text>
<text x="111.5" y="693.7" font-size="11.5" font-weight="bold" text-anchor="middle" textLength="146" lengthAdjust="spacingAndGlyphs" transform="rotate(-90 111.5 693.7)">Relative liver grey value</text>
<text x="126.8" y="693.7" font-size="11.5" font-weight="bold" text-anchor="middle" textLength="127" lengthAdjust="spacingAndGlyphs" transform="rotate(-90 126.8 693.7)">(Compared to Control)</text>
<text x="140.3" y="919" font-size="12.2" fill="#111" textLength="503.5" lengthAdjust="spacingAndGlyphs">Relative liver grey value (Compared to normal diet Control)of&#160; HFD fed zebrafish treated with</text>
<text x="140.3" y="933.2" font-size="12.2" fill="#111" textLength="452.5" lengthAdjust="spacingAndGlyphs">pioglitazone (PIO) or 8 Pin1 inhibitors; * versus Control (<tspan font-style="italic">t</tspan>-test) # versus HFD (<tspan font-style="italic">t</tspan>-test)</text>
</g>
<defs>
<filter id="bl" x="-10%" y="-10%" width="120%" height="120%"><feGaussianBlur stdDeviation="0.55"/></filter>
<filter id="bl2" x="-30%" y="-30%" width="160%" height="160%"><feGaussianBlur stdDeviation="2"/></filter>
<filter id="bl3" x="-30%" y="-30%" width="160%" height="160%"><feGaussianBlur stdDeviation="1.2"/></filter>
<radialGradient id="bg1" cx="0.4" cy="0.55" r="0.75"><stop offset="0" stop-color="#FBFCFE"/><stop offset="1" stop-color="#EBF0F8"/></radialGradient>
<radialGradient id="bg2" cx="0.45" cy="0.7" r="0.8"><stop offset="0" stop-color="#FAFBFD"/><stop offset="1" stop-color="#E9EEF7"/></radialGradient>
<radialGradient id="bg3" cx="0.15" cy="0.7" r="1.0"><stop offset="0" stop-color="#F6F8FC"/><stop offset="0.5" stop-color="#E4E9F3"/><stop offset="1" stop-color="#D2D9E8"/></radialGradient>
<radialGradient id="bg4" cx="0.2" cy="0.75" r="1.0"><stop offset="0" stop-color="#F3F5FA"/><stop offset="0.5" stop-color="#E4E8F2"/><stop offset="1" stop-color="#D8DEEA"/></radialGradient>
<linearGradient id="fb1" gradientUnits="userSpaceOnUse" x1="791" y1="0" x2="903" y2="0"><stop offset="0" stop-color="#E6E3DC"/><stop offset="0.12" stop-color="#DFD6C4"/><stop offset="0.3" stop-color="#DBC09A"/><stop offset="0.45" stop-color="#D3C4A8"/><stop offset="0.7" stop-color="#E2DACA"/><stop offset="1" stop-color="#E6E0D4"/></linearGradient>
<linearGradient id="fb2" gradientUnits="userSpaceOnUse" x1="803" y1="0" x2="903" y2="0"><stop offset="0" stop-color="#B5805E"/><stop offset="0.3" stop-color="#A96E4C"/><stop offset="0.42" stop-color="#9E5434"/><stop offset="0.65" stop-color="#B47C5C"/><stop offset="1" stop-color="#BE9272"/></linearGradient>
<linearGradient id="fb3" gradientUnits="userSpaceOnUse" x1="809" y1="0" x2="903" y2="0"><stop offset="0" stop-color="#E4E0D6"/><stop offset="0.18" stop-color="#D8CCB2"/><stop offset="0.4" stop-color="#CBB084"/><stop offset="0.7" stop-color="#CDB88E"/><stop offset="1" stop-color="#DCD8CC"/></linearGradient>
<linearGradient id="fb4" gradientUnits="userSpaceOnUse" x1="806" y1="0" x2="903" y2="0"><stop offset="0" stop-color="#DAD0BA"/><stop offset="0.2" stop-color="#D0BC98"/><stop offset="0.45" stop-color="#C8B088"/><stop offset="0.75" stop-color="#D2C4A4"/><stop offset="1" stop-color="#DAD2C0"/></linearGradient>
<clipPath id="cp1"><rect x="786.4" y="570.2" width="116.2" height="67"/></clipPath>
<clipPath id="cp2"><rect x="786.4" y="638" width="116.2" height="67.4"/></clipPath>
<clipPath id="cp3"><rect x="786.2" y="707.2" width="115.4" height="64.8"/></clipPath>
<clipPath id="cp4"><rect x="786.2" y="778.2" width="115.6" height="64.2"/></clipPath>
</defs>
<rect x="786.4" y="570.2" width="116.2" height="67" fill="url(#bg1)" />
<g clip-path="url(#cp1)"><g filter="url(#bl)">
<path d="M791.4 602.0 C791.6 600.6 792.6 599.1 794.1 597.8 C795.7 596.5 797.4 595.3 800.7 594.0 C804.0 592.7 808.2 591.4 813.8 590.2 C819.4 589.0 826.7 587.4 834.1 586.8 C841.4 586.2 846.2 586.5 857.9 586.5 C869.6 586.4 896.6 583.3 904.4 586.6 C912.1 589.9 907.4 603.1 904.4 606.4 C901.4 609.7 891.5 606.4 886.5 606.4 C881.5 606.3 877.5 605.7 874.6 606.1 C871.7 606.6 871.6 607.5 869.2 609.1 C866.8 610.7 863.8 614.1 860.3 615.7 C856.8 617.3 853.1 618.3 848.4 618.7 C843.6 619.0 837.4 618.1 831.7 617.6 C825.9 617.1 819.2 616.5 813.8 615.7 C808.4 614.8 803.0 614.0 799.5 612.3 C796.0 610.7 794.3 607.6 792.9 605.9 C791.6 604.2 791.2 603.3 791.4 602.0 Z" fill="url(#fb1)"/>
<path d="M814.4 593.6 C816.0 592.0 821.0 590.9 824.5 590.6 C828.0 590.3 833.3 590.6 835.3 591.8 C837.2 593.0 837.4 595.8 836.4 597.8 C835.5 599.8 832.1 602.6 829.3 603.8 C826.5 604.9 822.1 605.5 819.8 604.9 C817.4 604.4 815.9 602.1 815.0 600.2 C814.1 598.3 812.8 595.2 814.4 593.6 Z" fill="#D9A66C" opacity="0.55" filter="url(#bl3)"/>
<path d="M834.1 607.3 C835.6 605.3 840.4 605.1 846.0 604.9 C851.5 604.8 863.3 605.6 867.4 606.1 C871.6 606.6 872.2 606.4 871.0 607.9 C869.8 609.5 864.1 613.7 860.3 615.4 C856.5 617.2 852.3 618.1 848.4 618.3 C844.4 618.5 838.8 618.7 836.4 616.9 C834.1 615.0 832.5 609.3 834.1 607.3 Z" fill="#C8B088" opacity="0.8"/>
<path d="M846.0 616.3 C847.2 615.5 852.1 615.0 855.5 613.9 C858.9 612.8 865.4 609.4 866.2 609.7 C867.0 610.0 863.3 614.2 860.3 615.7 C857.3 617.2 850.7 618.6 848.4 618.7 C846.0 618.8 844.8 617.1 846.0 616.3 Z" fill="#8C7C66" opacity="0.8"/>
<path d="M840.0 593.6 C842.0 592.7 844.8 591.5 855.5 591.2 C866.2 590.9 896.2 590.4 904.4 591.8 C912.5 593.2 909.3 598.4 904.4 599.6 C899.4 600.8 880.7 599.4 874.6 599.2 C868.4 599.0 870.6 599.1 867.4 598.4 C864.3 597.7 859.5 595.1 855.5 594.8 C851.5 594.5 846.2 596.8 843.6 596.6 C841.0 596.4 838.0 594.5 840.0 593.6 Z" fill="#EEEBE4" opacity="0.75"/>
<path d="M835.3 587.1 L904.4 587.1" fill="none" stroke="#3C362C" stroke-width="0.72" stroke-dasharray="1.8 2.6" opacity="0.75"/>
<path d="M813.8 590.4 L834.1 587.1" fill="none" stroke="#5C5446" stroke-width="0.72" stroke-dasharray="1.5 2.2" opacity="0.8"/>
<path d="M869.8 602.3 L904.4 602.6" fill="none" stroke="#3C362C" stroke-width="0.80" stroke-dasharray="2.2 3" opacity="0.75"/>
<path d="M875.8 606.4 L904.4 606.6" fill="none" stroke="#5C5446" stroke-width="0.72" stroke-dasharray="2 3" opacity="0.8"/>
<path d="M855.5 593.6 L904.4 594.0" fill="none" stroke="#9C9484" stroke-width="0.48" stroke-dasharray="1.5 2.5" opacity="0.8"/>
<path d="M819.8 615.9 C821.7 616.2 826.9 617.1 831.7 617.6 C836.4 618.0 843.6 619.0 848.4 618.7 C853.1 618.3 858.3 616.2 860.3 615.7" fill="none" stroke="#4C4436" stroke-width="0.72" stroke-dasharray="1.3 1.7" opacity="0.85"/>
<path d="M844.5 600.8 C844.7 599.5 846.1 597.9 848.4 597.2 C850.6 596.5 854.9 595.9 857.9 596.4 C860.9 596.9 864.6 599.1 866.2 600.2 C867.9 601.2 868.6 601.6 868.0 602.6 C867.4 603.5 864.9 605.1 862.7 605.9 C860.4 606.7 856.9 607.5 854.3 607.3 C851.7 607.2 848.8 606.0 847.2 604.9 C845.5 603.9 844.3 602.1 844.5 600.8 Z" fill="#E67FA6"/>
<ellipse cx="854.9" cy="604.4" rx="6.5" ry="2.4" fill="#F8B8CE"/>
<path d="M846.0 599.2 C847.2 598.8 850.5 596.7 853.1 596.4 C855.7 596.0 858.9 596.3 861.5 597.2 C864.1 598.1 867.4 601.2 868.6 602.0" fill="none" stroke="#5A2236" stroke-width="1.20" stroke-dasharray="1.6 0.9" opacity="0.75"/>
<path d="M867.4 602.2 L874.6 602.8" stroke="#4A3A34" stroke-width="1"/>
<ellipse cx="831.9" cy="601.1" rx="3.4" ry="2.8" fill="#80766A"/><ellipse cx="828.3" cy="603.2" rx="2" ry="1.5" fill="#8A8072"/>
<path d="M835.3 602.0 L844.2 599.2" stroke="#6A6052" stroke-width="0.9"/>
<ellipse cx="808.8" cy="603.2" rx="9.5" ry="8.6" fill="#08080E"/><ellipse cx="808.8" cy="603.2" rx="5.5" ry="5.0" fill="none" stroke="#3A3C58" stroke-width="1.12" opacity="0.7"/><ellipse cx="808.1999999999999" cy="603.2" rx="2.9" ry="2.8" fill="#04040A"/><ellipse cx="813.5" cy="605.8" rx="1.2" ry="0.9" fill="#7C8FC8" opacity="0.6"/>
</g>
<line x1="787" y1="630.3" x2="884.5" y2="630.3" stroke="#8C8C8C" stroke-width="0.8" /><line x1="884.5" y1="625.9" x2="884.5" y2="634.5" stroke="#8C8C8C" stroke-width="0.9" /><line x1="787.3" y1="626.8" x2="787.3" y2="634.3" stroke="#8C8C8C" stroke-width="0.8" /><line x1="832.5" y1="629.2" x2="839" y2="629.2" stroke="#9A9A9A" stroke-width="0.7" />
</g>
<rect x="786.4" y="638" width="116.2" height="67.4" fill="url(#bg2)" />
<g clip-path="url(#cp2)"><g filter="url(#bl)">
<path d="M802.8 676.3 C802.9 674.9 803.6 672.4 804.9 670.6 C806.1 668.7 807.7 666.9 810.2 665.2 C812.7 663.5 816.2 661.4 819.8 660.1 C823.3 658.7 827.3 658.0 831.7 657.0 C836.0 655.9 840.0 654.6 846.0 653.9 C851.9 653.2 860.9 652.4 867.4 652.7 C874.0 652.9 879.2 654.4 885.3 655.4 C891.5 656.5 901.2 655.2 904.4 658.9 C907.6 662.6 906.2 674.9 904.4 677.5 C902.6 680.1 896.8 675.0 893.7 674.4 C890.5 673.7 887.9 673.5 885.3 673.5 C882.7 673.6 880.3 673.8 878.2 674.7 C876.0 675.6 874.2 677.6 872.2 678.9 C870.2 680.2 869.0 681.6 866.2 682.7 C863.5 683.8 859.7 684.9 855.5 685.6 C851.3 686.3 846.2 686.8 841.2 686.8 C836.2 686.8 830.7 686.1 825.7 685.5 C820.8 684.8 815.0 683.8 811.4 682.7 C807.8 681.7 805.7 680.2 804.3 679.1 C802.8 678.1 802.7 677.7 802.8 676.3 Z" fill="url(#fb2)"/>
<path d="M805.5 671.8 C806.2 668.7 810.6 665.1 815.0 662.8 C819.4 660.5 826.9 658.5 831.7 658.1 C836.4 657.6 841.2 658.3 843.6 659.8 C846.0 661.3 847.0 664.4 846.0 667.0 C845.0 669.6 841.4 672.8 837.6 675.3 C833.9 677.9 827.9 681.5 823.3 682.5 C818.8 683.5 813.2 683.1 810.2 681.3 C807.2 679.5 804.7 674.8 805.5 671.8 Z" fill="#B8845F" opacity="0.8" filter="url(#bl3)"/>
<path d="M847.2 655.1 C850.0 653.7 861.1 653.4 867.4 653.6 C873.8 653.8 879.2 655.2 885.3 656.3 C891.5 657.3 901.2 657.9 904.4 659.8 C907.6 661.8 907.0 667.4 904.4 668.2 C901.8 669.0 893.9 665.7 888.9 664.6 C883.9 663.5 879.4 662.3 874.6 661.6 C869.8 660.9 864.3 660.4 860.3 660.4 C856.3 660.4 852.9 662.5 850.7 661.6 C848.6 660.7 844.4 656.4 847.2 655.1 Z" fill="#CBA484" opacity="0.75"/>
<path d="M850.7 655.1 L852.4 662.5" stroke="#A07050" stroke-width="0.7" opacity="0.7"/>
<path d="M854.7 655.1 L856.3 662.5" stroke="#A07050" stroke-width="0.7" opacity="0.7"/>
<path d="M858.6 655.1 L860.3 662.5" stroke="#A07050" stroke-width="0.7" opacity="0.7"/>
<path d="M862.5 655.1 L864.2 662.5" stroke="#A07050" stroke-width="0.7" opacity="0.7"/>
<path d="M866.5 655.1 L868.1 662.5" stroke="#A07050" stroke-width="0.7" opacity="0.7"/>
<path d="M870.4 655.5 L872.1 662.9" stroke="#A07050" stroke-width="0.7" opacity="0.7"/>
<path d="M874.3 656.0 L876.0 663.6" stroke="#A07050" stroke-width="0.7" opacity="0.7"/>
<path d="M878.3 656.6 L879.9 664.2" stroke="#A07050" stroke-width="0.7" opacity="0.7"/>
<path d="M882.2 657.1 L883.9 664.8" stroke="#A07050" stroke-width="0.7" opacity="0.7"/>
<path d="M886.1 657.7 L887.8 665.5" stroke="#A07050" stroke-width="0.7" opacity="0.7"/>
<path d="M890.1 658.2 L891.7 666.1" stroke="#A07050" stroke-width="0.7" opacity="0.7"/>
<path d="M894.0 658.8 L895.7 666.7" stroke="#A07050" stroke-width="0.7" opacity="0.7"/>
<path d="M897.9 659.3 L899.6 667.3" stroke="#A07050" stroke-width="0.7" opacity="0.7"/>
<path d="M901.9 659.9 L903.5 668.0" stroke="#A07050" stroke-width="0.7" opacity="0.7"/>
<path d="M848.4 671.8 C850.3 670.1 854.3 668.1 857.9 667.6 C861.5 667.1 867.0 667.7 869.8 668.8 C872.6 669.9 875.0 672.1 874.6 674.1 C874.2 676.2 870.6 679.5 867.4 681.3 C864.3 683.1 858.7 684.5 855.5 684.9 C852.3 685.3 850.0 684.9 848.4 683.7 C846.8 682.5 846.0 679.7 846.0 677.7 C846.0 675.7 846.4 673.4 848.4 671.8 Z" fill="#C08E72" opacity="0.85" filter="url(#bl3)"/>
<ellipse cx="860.3" cy="675.9" rx="5" ry="3.4" fill="#D4AE98" opacity="0.7" filter="url(#bl3)"/>
<path d="M849.3 665.6 C850.7 664.9 854.5 662.0 857.9 661.6 C861.3 661.2 866.2 662.2 869.8 663.2 C873.4 664.1 877.8 666.6 879.4 667.2" fill="none" stroke="#6E2626" stroke-width="2.4" opacity="0.75"/>
<ellipse cx="865.6" cy="668.4" rx="5.5" ry="2.6" fill="#E29CA2" opacity="0.75"/>
<path d="M846.0 670.6 C845.6 671.8 844.2 675.1 843.6 677.7 C843.0 680.3 842.6 684.7 842.4 686.1" fill="none" stroke="#8A3420" stroke-width="2.6" opacity="0.6"/>
<path d="M823.3 658.6 L840.0 655.8" stroke="#3C2A20" stroke-width="0.96" stroke-dasharray="2 1.6" opacity="0.8"/>
<ellipse cx="841.2" cy="665.8" rx="2.2" ry="2" fill="#8C8480" opacity="0.8"/>
<ellipse cx="819.8" cy="670.6" rx="8.7" ry="8.1" fill="#10141F"/><ellipse cx="819.8" cy="670.6" rx="5.2" ry="4.9" fill="none" stroke="#8594B8" stroke-width="1.50" opacity="0.7"/><ellipse cx="819.1999999999999" cy="670.6" rx="2.6" ry="2.6" fill="#04040A"/><ellipse cx="824.1" cy="673.0" rx="1.2" ry="0.9" fill="#B8C4E0" opacity="0.6"/>
</g>
<line x1="787" y1="699.2" x2="883.5" y2="699.2" stroke="#8C8C8C" stroke-width="0.8" /><line x1="883.5" y1="694.8" x2="883.5" y2="703.4" stroke="#8C8C8C" stroke-width="0.9" /><line x1="787.3" y1="695.7" x2="787.3" y2="703.2" stroke="#8C8C8C" stroke-width="0.8" /><line x1="832.5" y1="698.1" x2="839" y2="698.1" stroke="#9A9A9A" stroke-width="0.7" />
</g>
<rect x="786.2" y="707.2" width="115.4" height="64.8" fill="url(#bg3)" />
<g clip-path="url(#cp3)"><g filter="url(#bl)">
<path d="M808.8 740.0 C808.7 738.8 809.4 737.7 810.5 736.8 C811.5 735.9 813.1 735.2 815.2 734.5 C817.4 733.8 820.6 733.2 823.3 732.6 C826.1 732.0 827.9 731.5 831.7 730.8 C835.5 730.1 841.0 729.0 846.0 728.4 C850.9 727.8 855.9 727.1 861.5 727.2 C867.0 727.4 872.2 728.2 879.4 729.3 C886.5 730.4 900.2 730.2 904.4 733.8 C908.6 737.4 906.6 748.7 904.4 751.1 C902.2 753.5 895.1 749.2 891.3 748.3 C887.4 747.4 883.3 745.5 881.1 745.7 C879.0 745.9 879.6 748.2 878.2 749.5 C876.7 750.8 875.0 752.5 872.2 753.6 C869.4 754.7 865.0 755.9 861.5 756.2 C857.9 756.5 854.5 755.6 850.7 755.5 C847.0 755.3 842.4 755.6 838.8 755.3 C835.3 754.9 833.0 754.5 829.3 753.6 C825.6 752.7 819.9 751.6 816.8 750.0 C813.7 748.4 812.1 745.6 810.8 743.9 C809.5 742.3 808.9 741.2 808.8 740.0 Z" fill="url(#fb3)"/>
<path d="M848.4 742.1 C850.2 740.4 853.5 739.0 857.9 738.6 C862.3 738.2 870.8 738.6 874.6 739.8 C878.4 740.9 880.1 743.9 880.5 745.7 C880.9 747.5 878.4 749.2 877.0 750.5 C875.6 751.8 874.8 752.6 872.2 753.6 C869.6 754.5 865.0 755.9 861.5 756.2 C857.9 756.5 853.1 756.4 850.7 755.3 C848.4 754.1 847.6 751.5 847.2 749.3 C846.8 747.1 846.6 743.9 848.4 742.1 Z" fill="#C4A474" opacity="0.8" filter="url(#bl3)"/>
<path d="M850.7 733.8 C851.9 732.6 856.7 730.1 861.5 729.6 C866.2 729.2 872.2 730.1 879.4 731.2 C886.5 732.2 900.2 733.9 904.4 735.9 C908.6 738.0 907.0 742.6 904.4 743.3 C901.8 744.1 893.5 741.4 888.9 740.4 C884.3 739.3 881.3 737.6 877.0 736.8 C872.6 735.9 866.4 735.2 862.7 735.2 C858.9 735.2 856.3 737.0 854.3 736.8 C852.3 736.5 849.6 735.0 850.7 733.8 Z" fill="#E8E6E0" opacity="0.85"/>
<path d="M831.7 730.9 L844.8 728.8" stroke="#26221C" stroke-width="1.36" stroke-dasharray="2.6 1.4" opacity="0.75"/>
<path d="M846.0 728.4 C848.6 728.2 855.9 727.1 861.5 727.2 C867.0 727.4 872.2 728.2 879.4 729.3 C886.5 730.4 900.2 733.0 904.4 733.8" fill="none" stroke="#3C362C" stroke-width="0.88" stroke-dasharray="1.8 2" opacity="0.75"/>
<path d="M877.0 735.2 C879.4 735.8 886.7 737.7 891.3 738.8 C895.8 739.9 902.2 741.4 904.4 741.9" fill="none" stroke="#5C564A" stroke-width="0.80" stroke-dasharray="2.4 2.2" opacity="0.85"/>
<path d="M881.7 746.0 C883.3 746.4 887.5 747.5 891.3 748.3 C895.0 749.2 902.2 750.6 904.4 751.1" fill="none" stroke="#4C463A" stroke-width="0.80" stroke-dasharray="2 2.4" opacity="0.85"/>
<path d="M838.8 755.3 C840.8 755.3 847.0 755.3 850.7 755.5 C854.5 755.6 857.9 756.5 861.5 756.2 C865.0 755.9 869.4 754.7 872.2 753.6 C875.0 752.5 877.2 750.2 878.2 749.5" fill="none" stroke="#3C3428" stroke-width="0.72" stroke-dasharray="1.3 1.7" opacity="0.85"/>
<path d="M860.3 739.8 C861.0 738.7 863.1 737.4 865.0 737.1 C867.0 736.8 870.3 737.2 872.2 738.0 C874.1 738.7 876.4 740.5 876.4 741.5 C876.4 742.6 874.1 743.9 872.2 744.5 C870.3 745.1 866.9 745.3 865.0 745.1 C863.2 744.9 861.7 744.2 860.9 743.3 C860.1 742.4 859.6 740.8 860.3 739.8 Z" fill="#EA8CB0"/>
<ellipse cx="866.2" cy="742.7" rx="4.6" ry="2" fill="#FAC4D6"/>
<path d="M860.3 738.0 C861.5 737.5 865.0 735.3 867.4 735.2 C869.8 735.1 872.8 736.4 874.6 737.4 C876.4 738.4 877.6 740.6 878.2 741.2" fill="none" stroke="#6A2C48" stroke-width="1.28" stroke-dasharray="2 0.8"/>
<ellipse cx="846.2" cy="739.5" rx="2.6" ry="2.4" fill="#8A8274"/><ellipse cx="843.6" cy="742.1" rx="1.7" ry="1.3" fill="#92897A"/>
<path d="M849.0 739.2 L860.3 735.6" stroke="#6A6052" stroke-width="0.9"/>
<ellipse cx="825.1" cy="740.4" rx="8.6" ry="7.8" fill="#0E1018"/><ellipse cx="825.1" cy="740.4" rx="5.2" ry="4.7" fill="none" stroke="#8C9CC0" stroke-width="1.35" opacity="0.7"/><ellipse cx="824.5" cy="740.4" rx="2.6" ry="2.5" fill="#04040A"/><ellipse cx="829.4" cy="742.7" rx="1.2" ry="0.9" fill="#B8C8E8" opacity="0.6"/>
</g>
<path d="M792.3 726.1 q3 1.2 2.6 4.4 q-0.4 2.4 -1.6 3.2" fill="none" stroke="#C4CCDC" stroke-width="0.9"/>
<line x1="786.4" y1="767.5" x2="883.2" y2="767.5" stroke="#A4A4A4" stroke-width="1.1" /><line x1="883.2" y1="763.1" x2="883.2" y2="771.7" stroke="#A4A4A4" stroke-width="1.2000000000000002" /><line x1="786.6999999999999" y1="764.0" x2="786.6999999999999" y2="771.5" stroke="#A4A4A4" stroke-width="1.1" /><line x1="831.9" y1="766.4" x2="838.4" y2="766.4" stroke="#9A9A9A" stroke-width="0.7" />
</g>
<rect x="786.2" y="778.2" width="115.6" height="64.2" fill="url(#bg4)" />
<g clip-path="url(#cp4)"><g filter="url(#bl)">
<path d="M806.4 811.2 C806.4 809.9 806.9 808.7 807.8 807.6 C808.8 806.5 809.6 805.9 812.0 804.8 C814.4 803.6 818.9 802.0 822.1 800.8 C825.4 799.6 827.7 798.2 831.7 797.4 C835.6 796.5 840.0 796.1 846.0 795.6 C851.9 795.1 860.9 794.3 867.4 794.3 C874.0 794.2 879.2 794.8 885.3 795.2 C891.5 795.7 901.2 793.5 904.4 796.9 C907.6 800.2 906.6 812.4 904.4 815.4 C902.2 818.4 894.7 815.0 891.3 814.9 C887.8 814.7 885.8 813.8 883.5 814.5 C881.2 815.2 879.7 817.4 877.6 819.1 C875.4 820.7 872.9 823.2 870.4 824.5 C867.9 825.9 865.9 826.9 862.7 827.2 C859.4 827.4 854.9 826.5 850.7 826.0 C846.6 825.5 841.8 824.7 837.6 824.1 C833.5 823.4 829.7 823.1 825.7 822.3 C821.7 821.5 816.8 820.5 813.8 819.3 C810.8 818.1 809.1 816.5 807.8 815.1 C806.6 813.8 806.4 812.4 806.4 811.2 Z" fill="url(#fb4)"/>
<path d="M850.7 813.3 C852.7 811.5 855.9 810.2 860.3 809.8 C864.7 809.4 873.2 810.2 877.0 810.9 C880.7 811.7 882.8 813.2 882.9 814.5 C883.0 815.9 879.6 817.4 877.6 819.1 C875.5 820.7 872.9 823.2 870.4 824.5 C867.9 825.9 865.5 826.9 862.7 827.2 C859.8 827.4 855.5 827.1 853.1 826.0 C850.7 824.9 848.8 822.6 848.4 820.5 C848.0 818.4 848.8 815.1 850.7 813.3 Z" fill="#C2A67C" opacity="0.7" filter="url(#bl3)"/>
<path d="M853.1 802.0 C855.1 800.8 862.1 798.4 867.4 797.8 C872.8 797.2 879.2 798.0 885.3 798.4 C891.5 798.9 901.2 798.6 904.4 800.5 C907.6 802.3 907.0 808.5 904.4 809.8 C901.8 811.0 893.9 808.7 888.9 808.0 C883.9 807.2 879.0 805.9 874.6 805.2 C870.2 804.5 865.8 803.8 862.7 803.8 C859.5 803.8 857.1 805.5 855.5 805.2 C853.9 804.9 851.1 803.2 853.1 802.0 Z" fill="#E4E0D4" opacity="0.8"/>
<path d="M831.7 797.4 L846.6 795.6" stroke="#1E1A16" stroke-width="1.44" stroke-dasharray="3.2 1.2" opacity="0.75"/>
<path d="M847.2 795.5 C850.5 795.3 861.1 794.3 867.4 794.3 C873.8 794.2 879.2 794.8 885.3 795.2 C891.5 795.7 901.2 796.6 904.4 796.9" fill="none" stroke="#3C362C" stroke-width="0.88" stroke-dasharray="2.2 2" opacity="0.75"/>
<path d="M867.4 799.6 C870.4 799.8 879.2 800.2 885.3 800.8 C891.5 801.4 901.2 802.8 904.4 803.2" fill="none" stroke="#7C7466" stroke-width="0.64" stroke-dasharray="2.4 2.2" opacity="0.85"/>
<path d="M884.1 814.8 C885.3 814.8 887.9 815.0 891.3 815.1 C894.6 815.2 902.2 815.4 904.4 815.5" fill="none" stroke="#5C5446" stroke-width="0.72" stroke-dasharray="2 2.4" opacity="0.85"/>
<path d="M837.6 824.1 C839.8 824.4 846.6 825.5 850.7 826.0 C854.9 826.5 859.4 827.4 862.7 827.2 C865.9 826.9 867.9 825.9 870.4 824.5 C872.9 823.2 876.4 820.0 877.6 819.1" fill="none" stroke="#2E281E" stroke-width="0.88" stroke-dasharray="1.5 1.5" opacity="0.75"/>
<path d="M854.3 807.4 C854.3 806.8 859.7 804.8 862.7 804.4 C865.6 804.0 869.0 804.5 872.2 805.2 C875.4 806.0 881.7 808.1 881.7 808.8 C881.7 809.5 875.4 809.3 872.2 809.2 C869.0 809.0 865.6 808.3 862.7 808.0 C859.7 807.7 854.3 808.0 854.3 807.4 Z" fill="#42302C"/>
<path d="M880.5 808.8 L891.3 809.3" stroke="#5A4A44" stroke-width="1.1"/>
<ellipse cx="861.5" cy="810.4" rx="4.8" ry="2.2" fill="#EEB0B4" opacity="0.75"/>
<ellipse cx="844.2" cy="808.0" rx="2.6" ry="2.4" fill="#8A8274"/><ellipse cx="841.2" cy="810.4" rx="1.7" ry="1.3" fill="#92897A"/>
<path d="M847.2 808.6 L855.5 806.4" stroke="#5A5044" stroke-width="1.1"/>
<ellipse cx="823.9" cy="809.2" rx="9.3" ry="8.3" fill="#0A0A12"/><ellipse cx="823.9" cy="809.2" rx="5.4" ry="4.8" fill="none" stroke="#5A6080" stroke-width="1.20" opacity="0.7"/><ellipse cx="823.3" cy="809.2" rx="2.8" ry="2.7" fill="#04040A"/><ellipse cx="828.5" cy="811.7" rx="1.2" ry="0.9" fill="#A8B4D8" opacity="0.6"/>
</g>
<line x1="786.4" y1="837.2" x2="883.2" y2="837.2" stroke="#A0A0A0" stroke-width="1.0" /><line x1="883.2" y1="832.8" x2="883.2" y2="841.4" stroke="#A0A0A0" stroke-width="1.1" /><line x1="786.6999999999999" y1="833.7" x2="786.6999999999999" y2="841.2" stroke="#A0A0A0" stroke-width="1.0" /><line x1="831.9" y1="836.1" x2="838.4" y2="836.1" stroke="#9A9A9A" stroke-width="0.7" />
</g>
<text x="779.5" y="607.5" font-size="10.3" font-weight="bold" text-anchor="end">Control</text>
<text x="779.5" y="674.6" font-size="10.3" font-weight="bold" text-anchor="end">HFD</text>
<text x="779.5" y="739.6" font-size="10.3" font-weight="bold" text-anchor="end" textLength="59" lengthAdjust="spacingAndGlyphs">Pioglitazone</text>
<text x="779.5" y="752.8" font-size="10.3" font-weight="bold" text-anchor="end">5.0<tspan font-style="italic">μ</tspan>M</text>
<text x="779.5" y="808" font-size="10.3" font-weight="bold" text-anchor="end" textLength="50.5" lengthAdjust="spacingAndGlyphs">Inhibitor D</text>
<text x="779.5" y="821.2" font-size="10.3" font-weight="bold" text-anchor="end">1.0<tspan font-style="italic">μ</tspan>M</text>
<text x="742.6" y="872.2" font-size="12" fill="#111" textLength="197.5" lengthAdjust="spacingAndGlyphs">Representative photomicrographs of</text>
<text x="742.6" y="886.8" font-size="12" fill="#111" textLength="201.5" lengthAdjust="spacingAndGlyphs">zebrafish treated with pioglitazone or</text>
<text x="742.6" y="902.2" font-size="12" fill="#111" textLength="86" lengthAdjust="spacingAndGlyphs">Pin1 inhibitor D</text>
<defs>
<linearGradient id="wg1" gradientUnits="userSpaceOnUse" x1="85" y1="0" x2="160" y2="0"><stop offset="0" stop-color="#1C66CA"/><stop offset="0.45" stop-color="#1C66CA"/><stop offset="1" stop-color="#3A3A8A"/></linearGradient>
<linearGradient id="wg2" gradientUnits="userSpaceOnUse" x1="89" y1="0" x2="164" y2="0"><stop offset="0" stop-color="#1C66CA"/><stop offset="0.45" stop-color="#1C66CA"/><stop offset="1" stop-color="#3A3A8A"/></linearGradient>
</defs>
<defs><mask id="lm1" maskUnits="userSpaceOnUse" x="69.8" y="289" width="100" height="100">
<rect x="69.8" y="289" width="100" height="100" fill="#fff"/>
<polygon points="92.8,330.2 113.5,310.6 139.4,318.9 145.1,347.3 127.0,366.4 100.1,357.7" stroke="#000" stroke-width="1.5" fill="none" stroke-linecap="round" stroke-linejoin="round"/>
<path d="M113.5 310.6 Q123.3 323.5 125.9 341.6" stroke="#000" stroke-width="1.5" fill="none" stroke-linecap="round" stroke-linejoin="round"/>
<path d="M139.4 318.9 Q129.5 320.4 125.4 326.1" stroke="#000" stroke-width="1.5" fill="none" stroke-linecap="round" stroke-linejoin="round"/>
<path d="M92.8 330.2 Q96.5 335.9 105.2 338.5" stroke="#000" stroke-width="1.5" fill="none" stroke-linecap="round" stroke-linejoin="round"/>
<path d="M100.1 357.7 Q104.7 341.1 118.2 330.8" stroke="#000" stroke-width="1.5" fill="none" stroke-linecap="round" stroke-linejoin="round"/>
<path d="M112.5 343.2 Q122.3 347.3 145.1 347.3" stroke="#000" stroke-width="1.5" fill="none" stroke-linecap="round" stroke-linejoin="round"/>
<path d="M127.0 366.4 Q128.0 358.7 127.0 351.4" stroke="#000" stroke-width="1.5" fill="none" stroke-linecap="round" stroke-linejoin="round"/>
<circle cx="125.9" cy="341.6" r="2" fill="#000" />
<circle cx="125.4" cy="326.1" r="2" fill="#000" />
<circle cx="105.2" cy="338.5" r="2" fill="#000" />
<circle cx="118.2" cy="330.8" r="2" fill="#000" />
<circle cx="112.5" cy="343.2" r="2" fill="#000" />
<circle cx="127.0" cy="351.4" r="2" fill="#000" />
</mask></defs>
<g mask="url(#lm1)"><polygon points="88.1,328.7 111.7,305.9 144.2,316.8 151.4,349.4 127.8,372.1 95.2,361.2" fill="url(#wg1)" stroke="url(#wg1)" stroke-width="6.4" stroke-linejoin="round" opacity="0.12"/>
<polygon points="92.8,330.2 113.5,310.6 139.4,318.9 145.1,347.3 127.0,366.4 100.1,357.7" fill="url(#wg1)" opacity="0.03"/></g>
<g transform="translate(180 352) rotate(-13.4)" opacity="0.14" font-size="76" font-weight="bold"><text x="0.0" y="0" fill="#1C66CA">A</text><text x="51.7" y="0" fill="#1C66CA" textLength="76" lengthAdjust="spacingAndGlyphs">M</text><text x="129.5" y="0" fill="#1C66CA">E</text><text x="172.7" y="0" fill="#1C66CA">N</text><text x="240.1" y="0" fill="#1C66CA">I</text><text x="261.0" y="0" fill="#1C66CA">S</text><text x="311.5" y="0" fill="#262668">B</text><text x="361.1" y="0" fill="#262668">I</text><text x="382.7" y="0" fill="#262668">O</text><text x="445.0" y="0" fill="#262668">S</text><text x="488.5" y="0" fill="#262668">C</text><text x="541.7" y="0" fill="#262668">I</text><text x="569.5" y="0" fill="#262668">E</text><text x="617.7" y="0" fill="#262668">N</text><text x="677.1" y="0" fill="#262668">C</text><text x="722.5" y="0" fill="#262668">E</text></g>
<defs><mask id="lm2" maskUnits="userSpaceOnUse" x="74.2" y="759.6" width="100" height="100">
<rect x="74.2" y="759.6" width="100" height="100" fill="#fff"/>
<polygon points="97.2,800.8 117.9,781.2 143.8,789.5 149.5,817.9 131.4,837.0 104.5,828.3" stroke="#000" stroke-width="1.5" fill="none" stroke-linecap="round" stroke-linejoin="round"/>
<path d="M117.9 781.2 Q127.7 794.1 130.3 812.2" stroke="#000" stroke-width="1.5" fill="none" stroke-linecap="round" stroke-linejoin="round"/>
<path d="M143.8 789.5 Q133.9 791.0 129.8 796.7" stroke="#000" stroke-width="1.5" fill="none" stroke-linecap="round" stroke-linejoin="round"/>
<path d="M97.2 800.8 Q100.9 806.5 109.6 809.1" stroke="#000" stroke-width="1.5" fill="none" stroke-linecap="round" stroke-linejoin="round"/>
<path d="M104.5 828.3 Q109.1 811.7 122.6 801.4" stroke="#000" stroke-width="1.5" fill="none" stroke-linecap="round" stroke-linejoin="round"/>
<path d="M116.9 813.8 Q126.7 817.9 149.5 817.9" stroke="#000" stroke-width="1.5" fill="none" stroke-linecap="round" stroke-linejoin="round"/>
<path d="M131.4 837.0 Q132.4 829.3 131.4 822.0" stroke="#000" stroke-width="1.5" fill="none" stroke-linecap="round" stroke-linejoin="round"/>
<circle cx="130.3" cy="812.2" r="2" fill="#000" />
<circle cx="129.8" cy="796.7" r="2" fill="#000" />
<circle cx="109.6" cy="809.1" r="2" fill="#000" />
<circle cx="122.6" cy="801.4" r="2" fill="#000" />
<circle cx="116.9" cy="813.8" r="2" fill="#000" />
<circle cx="131.4" cy="822.0" r="2" fill="#000" />
</mask></defs>
<g mask="url(#lm2)"><polygon points="92.5,799.3 116.1,776.5 148.6,787.4 155.8,820.0 132.2,842.7 99.6,831.8" fill="url(#wg2)" stroke="url(#wg2)" stroke-width="6.4" stroke-linejoin="round" opacity="0.12"/>
<polygon points="97.2,800.8 117.9,781.2 143.8,789.5 149.5,817.9 131.4,837.0 104.5,828.3" fill="url(#wg2)" opacity="0.03"/></g>
<g transform="translate(183.3 825) rotate(-13.3)" opacity="0.14" font-size="76" font-weight="bold"><text x="0.0" y="0" fill="#1C66CA">A</text><text x="51.7" y="0" fill="#1C66CA" textLength="76" lengthAdjust="spacingAndGlyphs">M</text><text x="129.5" y="0" fill="#1C66CA">E</text><text x="172.7" y="0" fill="#1C66CA">N</text><text x="240.1" y="0" fill="#1C66CA">I</text><text x="261.0" y="0" fill="#1C66CA">S</text><text x="311.5" y="0" fill="#262668">B</text><text x="361.1" y="0" fill="#262668">I</text><text x="382.7" y="0" fill="#262668">O</text><text x="445.0" y="0" fill="#262668">S</text><text x="488.5" y="0" fill="#262668">C</text><text x="541.7" y="0" fill="#262668">I</text><text x="569.5" y="0" fill="#262668">E</text><text x="617.7" y="0" fill="#262668">N</text><text x="677.1" y="0" fill="#262668">C</text><text x="722.5" y="0" fill="#262668">E</text></g>
</svg>
</body></html>
